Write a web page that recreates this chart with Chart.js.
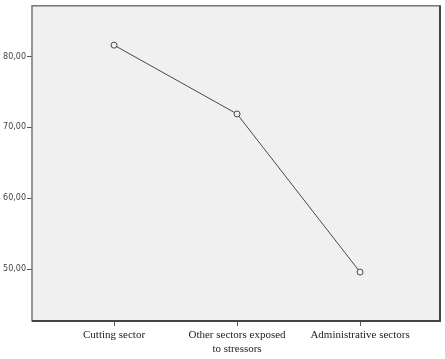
<!DOCTYPE html>
<html>
<head>
<meta charset="utf-8">
<script src="https://cdn.jsdelivr.net/npm/chart.js@4"></script>
<style>
  html, body { margin: 0; padding: 0; background: #fff; }
  #wrap { width: 445px; height: 359px; }
</style>
</head>
<body>
<div id="wrap"><canvas id="myChart"></canvas></div>
<script>
const categories = ["Cutting sector", ["Other sectors exposed", "to stressors"], "Administrative sectors"]
const values = [81.6, 71.9, 49.6]
const yTicks = [50, 60, 70, 80]

// grey plot area with a darker frame, like the original
const plotBox = {
  id: "plotBox",
  beforeDraw(chart) {
    const { ctx, chartArea: a } = chart
    ctx.save()
    ctx.fillStyle = "#f0f0f0"
    ctx.fillRect(a.left, a.top, a.right - a.left, a.bottom - a.top)
    ctx.restore()
  },
  afterDraw(chart) {
    const { ctx, chartArea: a } = chart
    ctx.save()
    ctx.strokeStyle = "#777"
    ctx.lineWidth = 1.5
    ctx.strokeRect(a.left, a.top, a.right - a.left, a.bottom - a.top)
    ctx.strokeStyle = "#444"
    ctx.lineWidth = 2
    ctx.beginPath()
    ctx.moveTo(a.right, a.top)
    ctx.lineTo(a.right, a.bottom)
    ctx.lineTo(a.left, a.bottom)
    ctx.stroke()
    ctx.restore()
  },
}

const ctx = document.getElementById("myChart")
const myChart = new Chart(ctx, {
  type: "line",
  data: {
    datasets: [
      {
        data: values.map((v, i) => ({ x: i, y: v })),
        borderColor: "#4a4a4a",
        borderWidth: 1,
        pointRadius: 3,
        pointBorderWidth: 1,
        pointBorderColor: "#4a4a4a",
        pointBackgroundColor: "#f0f0f0",
        tension: 0,
      },
    ],
  },
  options: {
    animation: false,
    responsive: true,
    maintainAspectRatio: false,
    layout: { padding: { top: 4, right: 3, left: 0, bottom: 0 } },
    scales: {
      x: {
        type: "linear",
        min: -0.667,
        max: 2.65,
        afterBuildTicks: (axis) => {
          axis.ticks = categories.map((c, i) => ({ value: i }))
        },
        afterFit: (axis) => { axis.height = 38 },
        ticks: {
          callback: (v) => categories[v],
          color: "#222",
          font: { family: "Liberation Serif", size: 11 },
          maxRotation: 0,
          autoSkip: false,
          padding: 3,
        },
        grid: {
          drawOnChartArea: false,
          drawTicks: true,
          tickLength: 5,
          color: "#555",
        },
        border: { display: false },
      },
      y: {
        min: 42.7,
        max: 87.15,
        afterBuildTicks: (axis) => {
          axis.ticks = yTicks.map((v) => ({ value: v }))
        },
        afterFit: (axis) => { axis.width = 32 },
        ticks: {
          callback: (v) => v.toFixed(2).replace(".", ","),
          color: "#444",
          font: { family: "DejaVu Sans", size: 8 },
          padding: 1,
        },
        grid: {
          drawOnChartArea: false,
          drawTicks: true,
          tickLength: 5,
          color: "#555",
        },
        border: { display: false },
      },
    },
    plugins: {
      legend: { display: false },
      tooltip: { enabled: false },
    },
  },
  plugins: [plotBox],
})
</script>
</body>
</html>
